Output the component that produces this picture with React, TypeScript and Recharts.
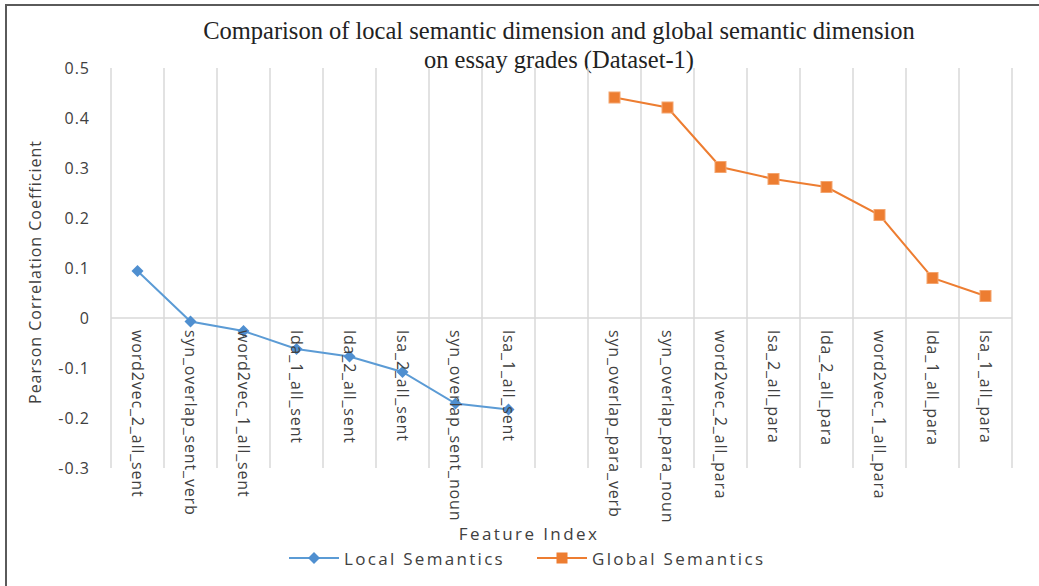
import React from 'react';
import { LineChart, Line, XAxis, YAxis, ReferenceLine } from 'recharts';

// category order as shown on the x axis (one empty slot between the two groups)
const categories = [
  'word2vec_2_all_sent',
  'syn_overlap_sent_verb',
  'word2vec_1_all_sent',
  'lda_1_all_sent',
  'lda_2_all_sent',
  'lsa_2_all_sent',
  'syn_overlap_sent_noun',
  'lsa_1_all_sent',
  '',
  'syn_overlap_para_verb',
  'syn_overlap_para_noun',
  'word2vec_2_all_para',
  'lsa_2_all_para',
  'lda_2_all_para',
  'word2vec_1_all_para',
  'lda_1_all_para',
  'lsa_1_all_para',
];
const localSemantics = [0.094, -0.007, -0.026, -0.062, -0.077, -0.108, -0.171, -0.183];
const globalSemantics = [0.441, 0.421, 0.302, 0.278, 0.262, 0.206, 0.08, 0.044];
const yTicks = [-0.3, -0.2, -0.1, 0, 0.1, 0.2, 0.3, 0.4, 0.5];
const seriesNames = ['Local Semantics', 'Global Semantics'];

const globalStart = 9;
const Y_MIN = -0.3;
const Y_MAX = 0.5;

const W = 1039;
const H = 586;
const X_AXIS_H = 30;
const margin = { top: 68, right: 27, left: 51, bottom: 88 };
const plotH = H - margin.top - margin.bottom - X_AXIS_H;
const zeroY = margin.top + ((Y_MAX - 0) / (Y_MAX - Y_MIN)) * plotH;

const BLUE = '#4f8fd0';
const ORANGE = '#ed7d31';
const TEXT = '#404040';
const SANS = '"Open Sans", "Liberation Sans", sans-serif';

const rows = categories.map((name, i) => ({
  pos: i + 0.5,
  name,
  local: i < localSemantics.length ? localSemantics[i] : null,
  global: i >= globalStart ? globalSemantics[i - globalStart] : null,
}));
const centers = rows.map((r) => r.pos);
const boundaries = Array.from({ length: categories.length + 1 }, (_, i) => i);

function CategoryTick(props: any) {
  const { x, payload } = props;
  const name = categories[Math.floor(payload.value)] || '';
  const y0 = zeroY + 12;
  return (
    <text
      x={x}
      y={y0}
      transform={`rotate(90, ${x}, ${y0})`}
      textAnchor="start"
      dominantBaseline="central"
      fontSize={16}
      letterSpacing={0.85}
      fontFamily={SANS}
      fill={TEXT}
    >
      {name}
    </text>
  );
}

function DiamondDot(props: any) {
  const { cx, cy, value, index } = props;
  if (cx == null || cy == null || value == null) return <g key={`ld-${index}`} />;
  const r = 6;
  return (
    <path
      key={`ld-${index}`}
      d={`M${cx},${cy - r} L${cx + r},${cy} L${cx},${cy + r} L${cx - r},${cy} Z`}
      fill={BLUE}
    />
  );
}

function SquareDot(props: any) {
  const { cx, cy, value, index } = props;
  if (cx == null || cy == null || value == null) return <g key={`gd-${index}`} />;
  const s = 11;
  return (
    <rect
      key={`gd-${index}`}
      x={cx - s / 2}
      y={cy - s / 2}
      width={s}
      height={s}
      fill={ORANGE}
      stroke="#f4a56f"
      strokeWidth={1}
    />
  );
}

function LegendItem({ kind, label, left }: { kind: string; label: string; left: number }) {
  return (
    <div style={{ position: 'absolute', left, top: 549, display: 'flex', alignItems: 'center', height: 18 }}>
      <svg width={50} height={16}>
        <line x1={0} y1={8} x2={50} y2={8} stroke={kind === 'local' ? '#5b9bd5' : ORANGE} strokeWidth={2} />
        {kind === 'local' ? (
          <path d="M25,2 L31,8 L25,14 L19,8 Z" fill={BLUE} />
        ) : (
          <rect x={19.5} y={2.5} width={11} height={11} fill={ORANGE} />
        )}
      </svg>
      <span style={{ marginLeft: 5, letterSpacing: 2.3, fontFamily: SANS, fontSize: 17, color: TEXT, whiteSpace: 'nowrap' }}>
        {label}
      </span>
    </div>
  );
}

export default function App() {
  return (
    <div style={{ position: 'absolute', left: 0, top: 0, width: W, height: H, overflow: 'hidden', background: '#fff' }}>
      <div
        style={{
          position: 'absolute',
          left: 5,
          top: 4,
          width: W + 20,
          height: H + 20,
          borderLeft: '2px solid #5a5a5a',
          borderTop: '2px solid #5a5a5a',
        }}
      />
      <div
        style={{
          position: 'absolute',
          left: 0,
          top: 16,
          width: 1118,
          textAlign: 'center',
          fontFamily: '"Liberation Serif", "Times New Roman", serif',
          fontSize: 24.5,
          lineHeight: '29px',
          color: '#222',
        }}
      >
        Comparison of local semantic dimension and global semantic dimension
        <br />
        on essay grades (Dataset-1)
      </div>
      <div
        style={{
          position: 'absolute',
          left: 35,
          top: 272,
          transform: 'translate(-50%, -50%) rotate(-90deg)',
          whiteSpace: 'nowrap',
          fontFamily: SANS,
          fontSize: 16,
          letterSpacing: 1,
          color: TEXT,
        }}
      >
        Pearson Correlation Coefficient
      </div>
      <div
        style={{
          position: 'absolute',
          left: 529,
          top: 533,
          transform: 'translate(-50%, -50%)',
          whiteSpace: 'nowrap',
          fontFamily: SANS,
          fontSize: 17,
          letterSpacing: 2.4,
          color: TEXT,
        }}
      >
        Feature Index
      </div>
      <LegendItem kind="local" label={seriesNames[0]} left={289} />
      <LegendItem kind="global" label={seriesNames[1]} left={537} />
      <div style={{ position: 'absolute', left: 0, top: 0 }}>
        <LineChart width={W} height={H} data={rows} margin={margin}>
          <XAxis
            dataKey="pos"
            type="number"
            domain={[0, categories.length]}
            ticks={centers}
            interval={0}
            height={X_AXIS_H}
            axisLine={false}
            tickLine={false}
            tick={(p: any) => <CategoryTick key={`t-${p.index}`} {...p} />}
          />
          <YAxis
            type="number"
            domain={[Y_MIN, Y_MAX]}
            ticks={yTicks}
            width={60}
            axisLine={false}
            tickLine={false}
            tickSize={0}
            tickMargin={21}
            tickFormatter={(v: number) => (v === 0 ? '0' : v.toFixed(1))}
            tick={{ fill: TEXT, fontSize: 16, fontFamily: SANS, letterSpacing: 1 }}
          />
          {boundaries.map((b) => (
            <ReferenceLine key={`b-${b}`} x={b} stroke="#d9d9d9" strokeWidth={1.5} />
          ))}
          <ReferenceLine y={0} stroke="#d9d9d9" strokeWidth={1.5} />
          <Line
            dataKey="local"
            name={seriesNames[0]}
            stroke="#5b9bd5"
            strokeWidth={2}
            dot={DiamondDot}
            activeDot={false}
            isAnimationActive={false}
          />
          <Line
            dataKey="global"
            name={seriesNames[1]}
            stroke={ORANGE}
            strokeWidth={2}
            dot={SquareDot}
            activeDot={false}
            isAnimationActive={false}
          />
        </LineChart>
      </div>
    </div>
  );
}
